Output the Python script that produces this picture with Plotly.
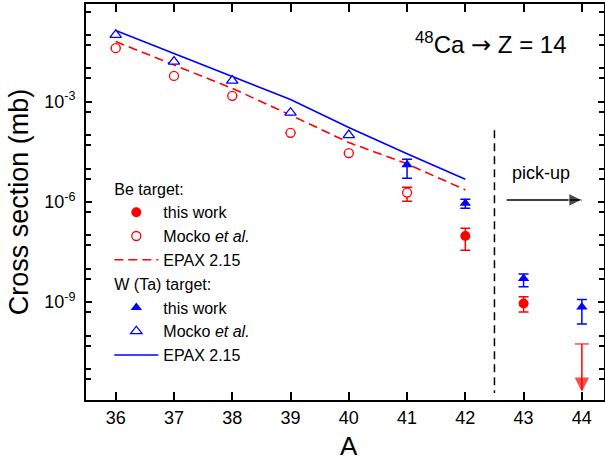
import plotly.graph_objects as go

# ---------------- data ----------------
A_epax = [36, 37, 38, 39, 40, 41, 42]
epax_be = [6.31e-2, 1.26e-2, 2.51e-3, 3.98e-4, 6.0e-5, 1.38e-5, 2.29e-6]
epax_w = [1.35e-1, 2.82e-2, 5.89e-3, 1.17e-3, 1.70e-4, 2.75e-5, 4.79e-6]

A_mocko_be = [36, 37, 38, 39, 40, 41]
mocko_be = [4.0e-2, 5.9e-3, 1.5e-3, 1.17e-4, 2.9e-5, 1.9e-6]
mocko_be_err = [0, 0, 0, 0, 0, 0.85e-6]

A_mocko_w = [36, 37, 38, 39, 40]
mocko_w = [1.0e-1, 1.58e-2, 4.27e-3, 4.68e-4, 1.0e-4]

A_this_be = [42, 43]
this_be = [9.5e-8, 9.1e-10]
this_be_up = [6.7e-8, 5.4e-10]
this_be_dn = [5.9e-8, 4.0e-10]

A_this_w = [41, 42, 43, 44]
this_w = [1.3e-5, 9.1e-7, 5.1e-9, 7.2e-10]
this_w_up = [6.0e-6, 2.9e-7, 1.8e-9, 4.8e-10]
this_w_dn = [7.9e-6, 2.65e-7, 2.2e-9, 5.0e-10]

A_limit_be = [44, 44]
limit_be = [5.6e-11, 2.3e-12]   # upper limit and arrow tip

divider_A = [42.5, 42.5]
divider_y = [1.4e-4, 1.9e-12]

pickup_A = [42.71, 44.0]
pickup_y = 1.15e-6

x_ticks = list(range(36, 45))
y_labeled = [1e-3, 1e-6, 1e-9]
y_labels = ["10<sup>-3</sup>", "10<sup>-6</sup>", "10<sup>-9</sup>"]
y_minor = sorted([10.0 ** k for k in range(-12, 1) if k not in (-3, -6, -9)]
                 + [5 * 10.0 ** k for k in range(-13, 0)])

RED = "#ff0000"
BLUE = "#0000ff"
FONT = "Liberation Sans, Arial, sans-serif"
LEG = 16

fig = go.Figure()

# EPAX lines (drawn first)
fig.add_trace(go.Scatter(
    x=A_epax, y=epax_be, mode="lines", name="EPAX 2.15",
    line=dict(color=RED, width=1.6, dash="9px,5px"),
    legendgroup="be", legendrank=3))
fig.add_trace(go.Scatter(
    x=A_epax, y=epax_w, mode="lines", name="EPAX 2.15",
    line=dict(color=BLUE, width=1.6),
    legendgroup="w", legendrank=6))

# divider
fig.add_trace(go.Scatter(
    x=divider_A, y=divider_y, mode="lines", showlegend=False,
    line=dict(color="black", width=1.5, dash="8px,5px"), hoverinfo="skip"))

# Mocko Be
fig.add_trace(go.Scatter(
    x=A_mocko_be, y=mocko_be, mode="markers", name="Mocko <i>et al.</i>",
    marker=dict(symbol="circle", size=9, color="white", line=dict(color=RED, width=1.3)),
    error_y=dict(type="data", array=mocko_be_err, color=RED, thickness=1.5, width=5),
    legendgroup="be", legendrank=2))
# Mocko W
fig.add_trace(go.Scatter(
    x=A_mocko_w, y=mocko_w, mode="markers", name="Mocko <i>et al.</i>",
    marker=dict(symbol="triangle-up", size=10, color="white", line=dict(color=BLUE, width=1.3)),
    legendgroup="w", legendrank=5))

# this work Be
fig.add_trace(go.Scatter(
    x=A_this_be, y=this_be, mode="markers", name="this work",
    marker=dict(symbol="circle", size=10, color=RED),
    error_y=dict(type="data", symmetric=False, array=this_be_up, arrayminus=this_be_dn,
                 color=RED, thickness=1.5, width=5),
    legendgroup="be", legendrank=1,
    legendgrouptitle=dict(text="Be target:", font=dict(size=LEG, family=FONT, color="black"))))
# this work W
fig.add_trace(go.Scatter(
    x=A_this_w, y=this_w, mode="markers", name="this work",
    marker=dict(symbol="triangle-up", size=10, color=BLUE),
    error_y=dict(type="data", symmetric=False, array=this_w_up, arrayminus=this_w_dn,
                 color=BLUE, thickness=1.5, width=5),
    legendgroup="w", legendrank=4,
    legendgrouptitle=dict(text="W (Ta) target:", font=dict(size=LEG, family=FONT, color="black"))))

# upper limit (Be, A=44)
fig.add_trace(go.Scatter(
    x=A_limit_be, y=limit_be, mode="lines+markers", showlegend=False,
    line=dict(color=RED, width=1.5),
    marker=dict(symbol=["line-ew", "arrow-down"], size=[10, 12], color=RED,
                line=dict(color=RED, width=1.5)),
    hoverinfo="skip"))

# pick-up arrow
fig.add_trace(go.Scatter(
    x=pickup_A, y=[pickup_y, pickup_y], mode="lines+markers", showlegend=False,
    line=dict(color="black", width=1.5),
    marker=dict(symbol=["circle", "arrow-right"], size=[0, 13], color="black"),
    hoverinfo="skip"))

fig.add_annotation(text="pick-up", xref="paper", yref="paper", x=0.879, y=0.573,
                   xanchor="center", yanchor="middle",
                   showarrow=False, font=dict(size=18, family=FONT, color="black"))
fig.add_annotation(text="<sup>48</sup>Ca <span style=\"font-family:DejaVu Sans\">\u2192</span> Z = 14",
                   xref="paper", yref="paper",
                   x=0.781, y=0.899, xanchor="center", yanchor="middle", showarrow=False,
                   font=dict(size=24, family=FONT, color="black"))
# x-axis title
fig.add_annotation(text="A", xref="paper", yref="paper", x=0.508, y=-0.117,
                   xanchor="center", yanchor="middle", showarrow=False,
                   font=dict(size=26, family=FONT, color="black"))

fig.update_xaxes(
    range=[35.49, 44.38], tickmode="array", tickvals=x_ticks,
    ticks="inside", ticklen=8, tickwidth=1.5, tickcolor="black",
    showline=True, linecolor="black", linewidth=2, mirror="ticks",
    showgrid=False, zeroline=False,
    tickfont=dict(size=18, family=FONT, color="black"), ticklabelstandoff=0)
fig.update_yaxes(
    type="log", range=[-11.93, -0.075], tickmode="array", tickvals=y_labeled,
    ticktext=y_labels,
    ticks="inside", ticklen=6, tickwidth=1.5, tickcolor="black",
    minor=dict(tickmode="array", tickvals=y_minor, ticks="inside", ticklen=5,
               tickwidth=1.5, tickcolor="black", showgrid=False),
    showline=True, linecolor="black", linewidth=2, mirror="ticks",
    showgrid=False, zeroline=False,
    tickfont=dict(size=18, family=FONT, color="black"), ticklabelstandoff=5,
    title=dict(text="Cross section (mb)", font=dict(size=27, family=FONT, color="black"),
               standoff=8))

fig.update_layout(
    width=605, height=456, margin=dict(l=86, r=1, t=4, b=56, autoexpand=False),
    paper_bgcolor="white", plot_bgcolor="white",
    font=dict(family=FONT, color="black"),
    legend=dict(x=0.045, y=0.577, xanchor="left", yanchor="top", traceorder="grouped",
                tracegroupgap=0, itemwidth=44, bgcolor="rgba(0,0,0,0)",
                font=dict(size=LEG, family=FONT, color="black")),
)

fig.write_html("out.html", config={"displayModeBar": False},
               post_script="document.body.style.margin='0';")
